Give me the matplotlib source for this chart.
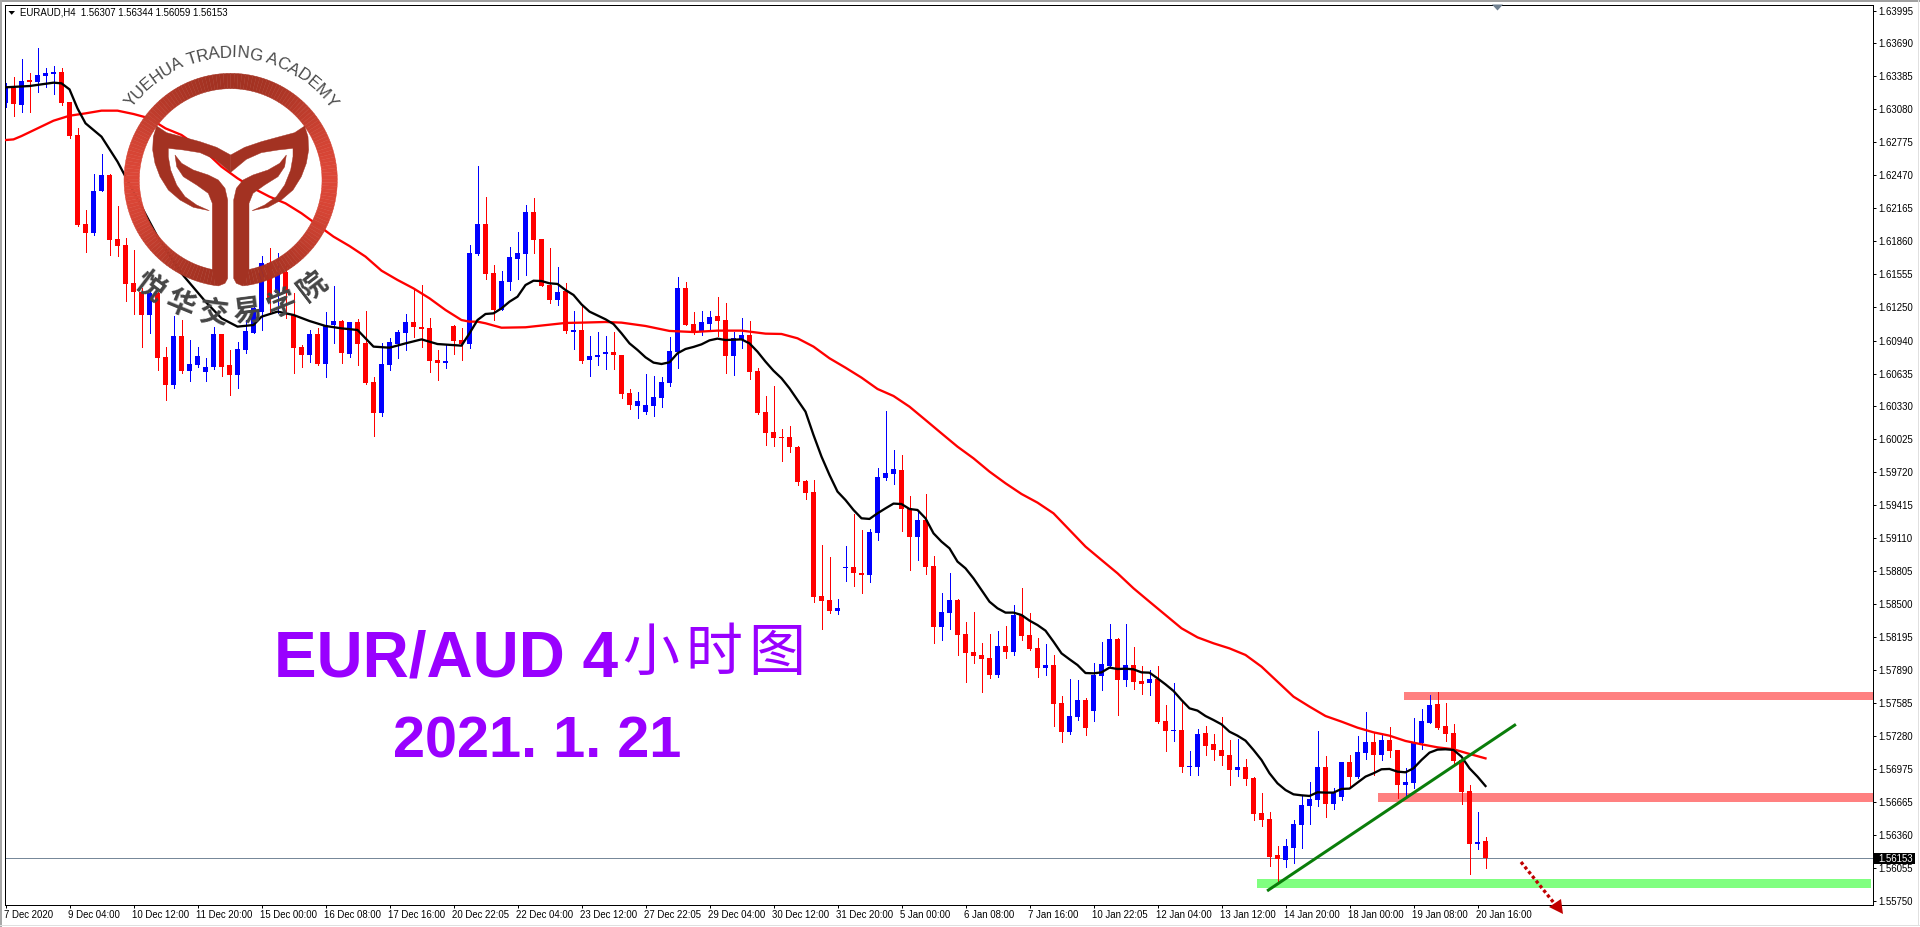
import numpy as np
import matplotlib
matplotlib.use("Agg")
import matplotlib.pyplot as plt
from matplotlib.collections import PolyCollection
from matplotlib.font_manager import FontProperties
from matplotlib.patches import Polygon, Rectangle
from matplotlib.textpath import TextToPath
from matplotlib.transforms import ScaledTranslation

# --- Data, all prices in 1e-5 units ---
highs = [
    163321,163376,163543,163413,163645,163460,163484,163460,163151,162904,
    162148,162482,162667,162482,162185,161889,161778,161423,161408,161393,
    160877,161167,161130,160945,160877,160776,161069,161001,160853,160927,
    161130,161254,161723,161797,161747,161639,161377,160899,161038,161053,
    161201,161445,161130,161112,161137,161214,160600,160914,160961,161038,
    161186,161423,161454,161146,160853,160899,161084,161053,161825,162556,
    162272,161639,161584,161806,161945,162195,162256,161880,161797,161621,
    161470,161214,161269,160982,161019,160982,161019,160806,160492,160464,
    160631,160612,160603,160973,161528,161482,161204,161214,161214,161343,
    161288,161019,161149,161121,160686,160427,160520,160122,160149,159964,
    159650,159650,159048,158937,158548,159039,159335,159187,159196,159761,
    160288,159927,159881,159502,159372,159520,158946,158604,158789,158548,
    158332,158431,158138,158224,158252,158298,158493,158650,158418,158187,
    158132,158030,157650,157808,157798,157629,157956,158150,158317,158184,
    158317,158104,157928,157891,157928,157567,157771,157613,157141,157345,
    157373,157299,157459,157243,157252,157067,156901,156753,156577,156262,
    156327,156503,156734,156854,157326,157095,156799,157039,157104,157280,
    157502,157317,157299,157363,157151,156981,157447,157530,157660,157687,
    157586,157391,157058,156827,156577,156344,
]
lows = [
    163099,163021,163059,163059,163244,163284,163222,163120,162818,162000,
    161763,161917,162324,161732,161723,161306,161186,160884,161013,160668,
    160390,160504,160643,160566,160698,160566,160677,160612,160436,160504,
    160828,161007,161038,161208,161192,161146,160643,160698,160745,160714,
    160606,160914,160736,160791,160714,160538,160057,160245,160668,160776,
    160853,160970,160884,160652,160575,160689,160816,160760,160874,161732,
    161510,161130,161223,161408,161510,161547,161747,161445,161291,161269,
    161013,160862,160732,160612,160714,160677,160677,160408,160307,160223,
    160260,160242,160325,160520,160686,161084,161001,160992,161038,160982,
    160640,160621,160871,160584,160260,159974,159964,159825,159909,159603,
    159474,158520,158271,158419,158409,158715,158669,158604,158706,159094,
    159650,159613,159178,158817,158909,158780,158141,158169,158271,158030,
    157780,157956,157687,157814,157826,158002,158030,158169,158076,157826,
    157845,157373,157225,157299,157428,157289,157419,157706,157922,157474,
    157743,157715,157669,157660,157400,157141,157234,156947,156919,156919,
    157104,157058,157012,156827,156910,156827,156503,156447,156077,155917,
    156068,156105,156244,156466,156632,156530,156605,156688,156799,156891,
    157067,156919,157058,157086,156706,156706,156799,157160,157397,157345,
    157234,157012,156651,156003,156234,156059,
]
body_tops = [
    163284,163274,163342,163352,163398,163416,163426,163426,163151,162843,
    162019,162324,162472,162472,161880,161825,161470,161393,161377,161377,
    160788,160982,160982,160723,160797,160695,161001,161001,160714,160862,
    161029,161238,161655,161655,161578,161578,161177,160880,161004,161004,
    161084,161121,161121,161112,161112,160917,160557,160723,160924,161022,
    161112,161112,161066,161053,160760,160751,161075,160945,161750,162019,
    162019,161565,161491,161713,161750,162130,162130,161880,161454,161390,
    161399,161038,161038,160797,160806,160834,160834,160806,160455,160381,
    160344,160418,160557,160843,161427,161427,161093,161112,161158,161167,
    161130,160964,160992,160992,160658,160279,160094,160048,160048,159955,
    159640,159539,158576,158539,158465,158844,158844,158789,159168,159677,
    159714,159751,159742,159390,159279,159279,158854,158428,158539,158539,
    158224,158058,158030,158002,158113,158113,158400,158400,158215,158095,
    157937,157937,157586,157465,157613,157613,157845,157946,158178,158178,
    157937,157937,157789,157808,157808,157419,157336,157336,157002,157299,
    157308,157206,157151,157104,156993,156993,156891,156567,156512,156179,
    156262,156466,156642,156697,156993,156993,156753,157039,157039,157132,
    157225,157225,157243,157243,157151,156854,157215,157419,157567,157576,
    157373,157308,157058,156771,156299,156307,
]
body_bottoms = [
    163136,163129,163123,163336,163333,163392,163410,163139,162833,162007,
    161939,161939,162324,161874,161815,161467,161393,161177,161177,160782,
    160529,160529,160658,160658,160714,160652,160695,160698,160621,160621,
    160853,161013,161208,161325,161377,161377,160874,160806,160806,160723,
    160726,161084,160825,160819,160911,160547,160273,160273,160714,160908,
    161013,161069,161047,160754,160736,160736,160939,160908,160911,161738,
    161556,161223,161223,161482,161695,161741,161871,161445,161315,161315,
    161029,161019,160751,160760,160788,160816,160806,160446,160344,160334,
    160279,160334,160408,160547,160834,161084,161019,161029,161093,161121,
    160797,160797,160945,160649,160270,160085,160038,160038,159955,159631,
    159529,158567,158530,158437,158437,158835,158789,158770,158770,159159,
    159668,159705,159381,159122,159122,158844,158289,158289,158419,158215,
    158048,158021,157993,157845,157845,158058,158058,158206,158085,157909,
    157909,157576,157317,157317,157456,157354,157511,157835,157928,157798,
    157798,157780,157761,157771,157410,157326,157326,156993,156993,156993,
    157188,157151,157095,156965,156965,156882,156558,156503,156160,156142,
    156132,156244,156456,156632,156688,156651,156651,156716,156901,156901,
    157123,157104,157104,157141,156827,156827,156845,157215,157400,157354,
    157299,157049,156762,156281,156281,156153,
]
# b = up candle (blue), r = down candle (red)
directions = (
    "brbrbbbrrr" "rbbrrrrrbr" "rbrbbbbrrb" "bbbrbrrrbr" "bbrbrrrbbb" "brrrrbrrbb"
    "rrbbbbrrrb" "rbrbbbrrrb" "bbbbbrrbbr" "rbbrrrrrrr" "rrrrbbrrbb" "bbrrbrrbbr"
    "rrrrbrbrrr" "brrbbrbbbr" "brrbrrbrbb" "rrrrbrrrrr" "bbbbbrbbrb" "brbrrbbbbr"
    "rrrrbr"
)

fast_ma_bars = [0,3,6,7,8,9,10,12,14,15,17,19,22,25,27,29,31,32,34,36,38,40,42,44,45,46,48,50,52,54,57,58,59,
    60,61,62,63,64,65,66,67,68,69,70,71,72,73,75,76,77,78,79,80,81,82,83,84,85,86,87,88,89,90,92,93,94,95,96,97,98,99,
    100,101,102,103,104,105,106,107,108,109,110,111,112,113,114,115,116,117,118,119,
    120,121,122,123,124,125,126,127,128,129,130,131,132,133,134,135,136,137,138,139,140,141,142,143,144,145,146,147,148,149,
    150,151,152,153,154,155,156,157,158,159,160,161,162,163,164,165,166,167,168,169,170,171,172,173,174,175,176,177,178,179,
    180,181,182,183,184,185]
fast_ma = [163284,163296,163327,163321,163265,163089,162951,162827,162596,162457,162179,161902,161562,161300,161146,161069,161084,161161,161208,161177,161121,161075,161053,161038,160961,160884,160874,160914,160951,160908,160893,161007,161130,
    161186,161192,161238,161300,161346,161454,161494,161491,161470,161464,161408,161362,161275,161208,161137,161093,161007,160914,160853,160785,160736,160723,160739,160822,160862,160881,160905,160942,160958,160945,160951,160914,160837,160745,160661,160591,160498,160390,
    160282,160066,159866,159696,159542,159464,159372,159295,159289,159341,159387,159431,159427,159381,159372,159295,159156,159079,159017,158894,
    158832,158739,158631,158523,158462,158422,158422,158400,158348,158307,158255,158153,158045,157990,157937,157863,157860,157869,157913,157900,157903,157897,157869,157866,157814,157758,157697,157613,157536,157515,
    157465,157428,157388,157320,157283,157237,157151,157058,156935,156842,156780,156740,156731,156725,156759,156756,156756,156790,156793,156848,156904,156935,156972,156975,156950,156944,156981,157058,157126,157154,
    157157,157151,157089,156981,156904,156817]

slow_ma_bars = [0,1,2,4,6,8,10,12,14,16,18,20,22,25,27,29,31,33,35,37,39,41,43,45,47,49,51,53,55,57,58,59,
    60,62,65,68,70,72,75,77,80,83,86,89,92,95,97,99,101,103,105,107,109,111,113,115,117,119,
    121,123,125,127,129,131,133,135,137,139,141,143,145,147,149,151,153,155,157,159,161,163,165,167,169,171,173,175,177,179,181,183,185]
slow_ma = [162796,162802,162833,162904,162975,163021,163043,163068,163068,163037,162997,162904,162843,162688,162549,162442,162349,162272,162210,162118,162010,161902,161815,161717,161587,161501,161423,161331,161223,161130,161115,161115,
    161100,161059,161063,161087,161103,161106,161112,161106,161075,161029,161019,161032,161032,161004,161001,160961,160884,160776,160689,160597,160492,160427,160328,160205,160081,159958,
    159850,159727,159619,159520,159440,159341,159187,159033,158909,158786,158647,158523,158400,158277,158193,158138,158091,158030,157922,157783,157644,157552,157465,157413,157357,157314,157283,157234,157203,157175,157157,157114,157073]

x_tick_labels = ["7 Dec 2020", "9 Dec 04:00", "10 Dec 12:00", "11 Dec 20:00", "15 Dec 00:00", "16 Dec 08:00",
                 "17 Dec 16:00", "20 Dec 22:05", "22 Dec 04:00", "23 Dec 12:00", "27 Dec 22:05", "29 Dec 04:00",
                 "30 Dec 12:00", "31 Dec 20:00", "5 Jan 00:00", "6 Jan 08:00", "7 Jan 16:00", "10 Jan 22:05",
                 "12 Jan 04:00", "13 Jan 12:00", "14 Jan 20:00", "18 Jan 00:00", "19 Jan 08:00", "20 Jan 16:00"]
y_tick_labels = ["1.63995", "1.63690", "1.63385", "1.63080", "1.62775", "1.62470", "1.62165", "1.61860",
                 "1.61555", "1.61250", "1.60940", "1.60635", "1.60330", "1.60025", "1.59720", "1.59415",
                 "1.59110", "1.58805", "1.58500", "1.58195", "1.57890", "1.57585", "1.57280", "1.56975",
                 "1.56665", "1.56360", "1.56055", "1.55750"]

last_price = 1.56153
resistance_high = (1.57613, 1.57687, 174.8, 233.56)   # low, high, first bar, last bar
resistance_low = (1.56669, 1.56753, 171.5, 233.4)
support = (1.55873, 1.55957, 156.4, 233.2)
trend_bars = [157.7, 188.8]
trend_prices = [1.55846, 1.57388]

POINT = 1e-5
highs = np.array(highs) * POINT
lows = np.array(lows) * POINT
body_tops = np.array(body_tops) * POINT
body_bottoms = np.array(body_bottoms) * POINT
fast_ma = np.array(fast_ma) * POINT
slow_ma = np.array(slow_ma) * POINT
bars = np.arange(len(highs))
colors = ["#0000ff" if d == "b" else "#ff0000" for d in directions]

# --- Figure, main axes placed to the pixel ---
W, H = 1920, 927
plt.rcParams["font.family"] = ["Liberation Sans", "DejaVu Sans"]
fig = plt.figure(figsize=(W / 100, H / 100), dpi=100, facecolor="white")
left, right, top, bottom = 4.5, 1872.5, 4.5, 904.5
ax = fig.add_axes([left / W, 1 - bottom / H, (right - left) / W, (bottom - top) / H], zorder=1)
ax.set_xlim((left - 5.5) / 8, (right - 5.5) / 8)
PX_PER_PRICE = 10804
ax.set_ylim(1.55750 - (bottom - 901.3) / PX_PER_PRICE, 1.63995 + (10.5 - top) / PX_PER_PRICE)
PX = 0.72  # one pixel in points

# levels sit behind the candles
for (low, high, first, last), color in zip((resistance_high, resistance_low, support),
                                           ("#ff8080", "#ff8080", "#80ff80")):
    ax.add_patch(Rectangle((first, low), last - first, high - low, color=color, lw=0, zorder=1, clip_on=False))
ax.axhline(last_price, color="#778899", lw=PX, zorder=1.5)

# candles
ax.vlines(bars, lows, highs, colors=colors, lw=PX, antialiased=False, zorder=2)
ax.bar(bars, np.maximum(body_tops - body_bottoms, 1 / PX_PER_PRICE), bottom=body_bottoms, width=0.625,
       color=colors, lw=0, antialiased=False, zorder=2.5)

# moving averages and trend line
ax.plot(slow_ma_bars, slow_ma, color="#ff0000", lw=2.3 * PX, zorder=3)
ax.plot(fast_ma_bars, fast_ma, color="black", lw=2.3 * PX, zorder=3)
ax.plot(trend_bars, trend_prices, color="#0a7d0a", lw=3 * PX, zorder=4, solid_capstyle="butt")

# axes cosmetics
ax.yaxis.tick_right()
ax.set_xticks(np.arange(0, 185, 8))
ax.set_xticklabels(x_tick_labels, ha="left", fontsize=6.9)
ax.set_yticks([float(v) for v in y_tick_labels])
ax.set_yticklabels(y_tick_labels, fontsize=6.9)
ax.tick_params(axis="x", length=2.2, width=PX, pad=1.5)
ax.tick_params(axis="y", length=2.2, width=PX, pad=2.2)
label_shift = ScaledTranslation(-2 / 100, 0, fig.dpi_scale_trans)
for tick in ax.get_xticklabels():
    tick.set_transform(tick.get_transform() + label_shift)
for spine in ax.spines.values():
    spine.set_linewidth(PX)

# --- Overlay in image pixels for the branding and annotations ---
ov = fig.add_axes([0, 0, 1, 1], zorder=2)
ov.set_xlim(0, W)
ov.set_ylim(H, 0)
ov.axis("off")
ov.patch.set_alpha(0)

# window edge
ov.add_patch(Rectangle((0, 0), W, 2.2, color="#a0a0a0", lw=0))
ov.add_patch(Rectangle((0, 0), 1.8, H, color="#a8a8a8", lw=0))
ov.add_patch(Rectangle((0, 924.5), W, 1.5, color="#e0e0e0", lw=0))
ov.add_patch(Rectangle((1917.5, 0), 1.5, 926, color="#e0e0e0", lw=0))

# header
ov.add_patch(Polygon([(8.5, 11), (15, 11), (11.7, 14.8)], color="black", lw=0))
ov.text(20, 12.6, "EURAUD,H4  1.56307 1.56344 1.56059 1.56153", fontsize=6.9, va="center", color="black")
ov.add_patch(Polygon([(1492, 4.5), (1503, 4.5), (1497.5, 10.5)], color="#708090", lw=0))

# price tag
ov.add_patch(Rectangle((1874, 853), 41, 11, color="black", lw=0))
ov.text(1878, 858.7, "1.56153", fontsize=6.9, va="center", color="white")

# dotted arrow
ov.plot([1521, 1554], [862, 903], color="#c00000", lw=3.3 * PX, linestyle=(0, (1, 0.82)))
ov.add_patch(Polygon([(1563, 914), (1549, 907), (1561, 899)], color="#c00000", lw=0))

# big title
PURPLE = "#9900ff"
ov.text(274, 676, "EUR/AUD 4", fontsize=46, fontweight="bold", color=PURPLE, ha="left", va="baseline",
        family="Liberation Sans")
for ch, cx in zip("小时图", [651, 714, 777]):
    ov.text(cx, 654, ch, fontsize=41, color=PURPLE, ha="center", va="center", family="Noto Sans CJK SC")
ov.text(393, 758, "2021. 1. 21", fontsize=41.5, fontweight="bold", color=PURPLE, ha="left", va="baseline",
        family="Liberation Sans")


# --- Logo: outlines traced at 3x, so divide by 3 ---
def z(points):
    return [(px / 3, py / 3) for px, py in points]


def mirror(points):
    return [(1384 - px, py) for px, py in points]


cx, cy = 692, 540
DARK = np.array([0xa3, 0x32, 0x22]) / 255
LIGHT = np.array([0xdc, 0x47, 0x37]) / 255
ring_angles = np.radians(np.linspace(-173, 173, 175))
quads, quad_colors = [], []
for a0, a1 in zip(ring_angles[:-1], ring_angles[1:]):
    quads.append(z([(cx + 320 * np.sin(a0), cy - 320 * np.cos(a0)), (cx + 320 * np.sin(a1), cy - 320 * np.cos(a1)),
                    (cx + 274 * np.sin(a1), cy - 274 * np.cos(a1)), (cx + 274 * np.sin(a0), cy - 274 * np.cos(a0))]))
    t = abs(np.sin((a0 + a1) / 2)) ** 2.5
    quad_colors.append(DARK + (LIGHT - DARK) * t)
ov.add_collection(PolyCollection(quads, facecolors=quad_colors, edgecolors=quad_colors, linewidths=0.3, zorder=5))

lobe = [(692, 465), (650, 442), (600, 425), (545, 410), (500, 398), (470, 378), (460, 410), (458, 450), (465, 490),
        (480, 530), (505, 570), (540, 600), (580, 622), (628, 632), (590, 615), (555, 590), (530, 555), (512, 510),
        (505, 470), (505, 445), (550, 450), (600, 458), (645, 478), (692, 517)]
stem = [(525, 465), (545, 490), (580, 510), (625, 525), (655, 540), (675, 565), (683, 600), (683, 835), (675, 850),
        (655, 858), (637, 808), (637, 610), (625, 580), (590, 555), (550, 530), (530, 500)]
for shape in (lobe, mirror(lobe), stem, mirror(stem)):
    ov.add_patch(Polygon(z(shape), closed=True, color=DARK, lw=0.3, zorder=5))

# curved English name above the ring
name = "YUEHUA TRADING ACADEMY"
name_font = FontProperties(family="Liberation Sans", size=12.2)
widths = [TextToPath().get_text_width_height_descent(ch, name_font, False)[0] * 100 / 72 for ch in name]
radius = 127
pos = -sum(widths) / 2
for ch, w in zip(name, widths):
    angle = (pos + w / 2) / radius
    ov.text(cx / 3 + radius * np.sin(angle), cy / 3 - radius * np.cos(angle), ch, fontproperties=name_font,
            color="#4a4a4a", rotation=-np.degrees(angle), rotation_mode="anchor", ha="center", va="center", zorder=6)
    pos += w

# curved Chinese name below the ring
for ch, angle in zip("悦华交易学院", [37, 22.3, 7.3, -7.3, -22.3, -37.5]):
    rad = np.radians(angle)
    ov.text(cx / 3 - 133.5 * np.sin(rad), cy / 3 + 133.5 * np.cos(rad), ch, fontsize=21, fontweight="bold",
            family="Noto Sans CJK SC", color="#454545", rotation=-angle, rotation_mode="anchor",
            ha="center", va="center", zorder=6)

fig.savefig("out.png", dpi=100)
